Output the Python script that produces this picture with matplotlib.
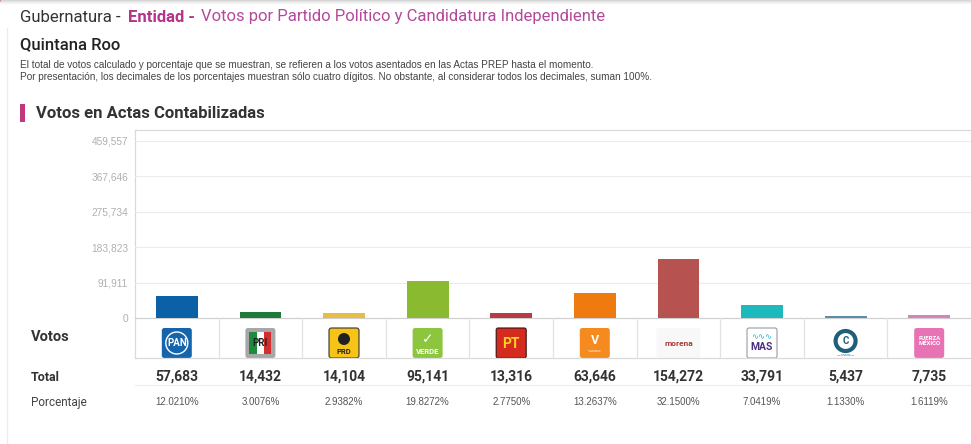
import matplotlib
matplotlib.use("Agg")
import matplotlib.pyplot as plt
from matplotlib.patches import FancyBboxPatch, Rectangle, Circle

# datos
partidos = ["PAN", "PRI", "PRD", "VERDE", "PT", "MC", "morena", "MAS", "CQROO", "FXM"]
votos = [57683, 14432, 14104, 95141, 13316, 63646, 154272, 33791, 5437, 7735]
porcentajes = [12.0210, 3.0076, 2.9382, 19.8272, 2.7750, 13.2637, 32.1500, 7.0419, 1.1330, 1.6119]
colores = ["#0c60a5", "#1f7a3a", "#e6bd45", "#8aba2f", "#b53b44",
           "#ef7a0f", "#b65250", "#1cbabd", "#5a8ea8", "#d683b8"]
y_ticks = [0, 91911, 183823, 275734, 367646, 459557]

W, H = 971, 444
MAGENTA = "#b5338a"
MAGENTA_L = "#b5489a"
DARK = "#333333"

fig = plt.figure(figsize=(W / 100, H / 100), dpi=100)
fig.patch.set_facecolor("white")

# capa en pixeles para textos y lineas
ov = fig.add_axes([0, 0, 1, 1])
ov.set_xlim(0, W)
ov.set_ylim(H, 0)
ov.axis("off")

# sombra superior y borde izquierdo de la pagina
for i, c in enumerate(["#d4d4d4", "#e2e2e2", "#ececec", "#f5f5f5"]):
    ov.plot([0, W], [i + 0.5, i + 0.5], color=c, lw=1, solid_capstyle="butt")
ov.add_patch(Rectangle((0, 0), 33, 2, color="#c2387f", lw=0))
ov.plot([7, 7], [28, H], color="#ececec", lw=1)

# encabezado
ov.text(20, 17, "Gubernatura -", fontsize=12, family="Roboto", color=DARK, va="center")
ov.text(128, 17, "Entidad -", fontsize=12, family="Roboto", fontweight="bold",
        color=MAGENTA, va="center")
ov.text(201, 17, "Votos por Partido Político y Candidatura Independiente", fontsize=12,
        family="Roboto", color=MAGENTA_L, va="center")
ov.text(20, 45, "Quintana Roo", fontsize=12, family="Roboto", fontweight="medium",
        color="#222222", va="center")
ov.text(20, 65, "El total de votos calculado y porcentaje que se muestran, se refieren a los "
        "votos asentados en las Actas PREP hasta el momento.", fontsize=7.2,
        family="Liberation Sans", color="#444444", va="center")
ov.text(20, 77, "Por presentación, los decimales de los porcentajes muestran sólo cuatro "
        "dígitos. No obstante, al considerar todos los decimales, suman 100%.",
        fontsize=7.2, family="Liberation Sans", color="#444444", va="center")

ov.add_patch(Rectangle((20, 104), 5, 18, color="#c2387f", lw=0))
ov.text(36, 113, "Votos en Actas Contabilizadas", fontsize=12, family="Roboto",
        fontweight="bold", color="#333333", va="center")

# grafica de barras
x0, x1, y_top, y_zero = 135, W, 141, 318
ax = fig.add_axes([x0 / W, (H - y_zero) / H, (x1 - x0) / W, (y_zero - y_top) / H])
ax.patch.set_alpha(0)
idx = list(range(len(partidos)))
ax.bar(idx, votos, width=0.5, color=colores, zorder=3)
ax.set_xlim(-0.5, len(partidos) - 0.5)
ax.set_ylim(0, y_ticks[-1])
ax.set_yticks(y_ticks)
ax.set_yticklabels([f"{t:,}" for t in y_ticks])
ax.set_xticks([])
ax.tick_params(axis="y", length=0, pad=5, labelsize=7.3, labelcolor="#b0b0b0")
for lab in ax.get_yticklabels():
    lab.set_family("Liberation Sans")
for s in ax.spines.values():
    s.set_visible(False)
for t in y_ticks[1:]:
    ax.axhline(t, color="#ececec", lw=0.8, zorder=1)

# lineas de la tabla
ln = "#dadada"
ov.plot([x0, W], [130, 130], color=ln, lw=0.9)
ov.plot([x0, x0], [130, 358], color=ln, lw=0.9)
ov.plot([x0, W], [y_zero, y_zero], color="#d0d0d0", lw=0.9)
ov.plot([x0, W], [358, 358], color=ln, lw=0.9)
ov.plot([x0, W], [385, 385], color="#eeeeee", lw=0.9)


def to_px(xd):
    disp = ax.transData.transform((xd, 0))
    return ov.transData.inverted().transform(disp)[0]


for k in range(1, len(partidos)):
    xs = to_px(k - 0.5)
    ov.plot([xs, xs], [y_zero, 358], color="#e2e2e2", lw=0.9)


def logo(name, cx, cy):
    s = 30
    l, t = cx - s / 2, cy - s / 2
    box = dict(boxstyle="round,pad=0,rounding_size=2.5", lw=0)
    if name == "PAN":
        ov.add_patch(FancyBboxPatch((l, t), s, s, fc="#1565ad", **box))
        ov.add_patch(Circle((cx, cy), 11, fc="none", ec="white", lw=1))
        ov.text(cx, cy, "PAN", color="white", fontsize=7, fontweight="bold",
                ha="center", va="center", family="Roboto")
    elif name == "PRI":
        ov.add_patch(FancyBboxPatch((l, t), s, s, fc="#a7a7a7", **box))
        for j, c in enumerate(["#1e8a3e", "white", "#d32f2f"]):
            ov.add_patch(Rectangle((l + 4 + j * 7.3, t + 4), 7.3, 22, fc=c, lw=0))
        ov.text(cx, cy, "PRI", color="#222222", fontsize=7, fontweight="bold",
                ha="center", va="center", family="Roboto")
    elif name == "PRD":
        ov.add_patch(FancyBboxPatch((l, t), s, s, fc="#f6c417", ec="#333333", lw=0.8,
                                    boxstyle="round,pad=0,rounding_size=2.5"))
        ov.add_patch(Circle((cx, cy - 4), 6, fc="#222222", lw=0))
        ov.text(cx, cy + 8, "PRD", color="#222222", fontsize=5.5, fontweight="bold",
                ha="center", va="center", family="Roboto")
    elif name == "VERDE":
        ov.add_patch(FancyBboxPatch((l, t), s, s, fc="#8cc63f", **box))
        ov.text(cx, cy - 4, "✓", color="white", fontsize=10, fontweight="bold",
                ha="center", va="center", family="DejaVu Sans")
        ov.text(cx, cy + 8, "VERDE", color="white", fontsize=5.5, fontweight="bold",
                ha="center", va="center", family="Roboto")
    elif name == "PT":
        ov.add_patch(FancyBboxPatch((l, t), s, s, fc="#d52b1e", ec="#3a1010", lw=0.8,
                                    boxstyle="round,pad=0,rounding_size=2"))
        ov.text(cx, cy + 1, "PT", color="#ffd21f", fontsize=10, fontweight="bold",
                ha="center", va="center", family="Roboto")
    elif name == "MC":
        ov.add_patch(FancyBboxPatch((l, t), s, s, fc="#f58a1f", **box))
        ov.text(cx, cy - 3, "V", color="white", fontsize=9, fontweight="bold",
                ha="center", va="center", family="Roboto")
        ov.text(cx, cy + 8, "MOVIMIENTO\nCIUDADANO", color="white", fontsize=1.6,
                ha="center", va="center", family="Roboto", linespacing=1.0)
    elif name == "morena":
        ov.add_patch(FancyBboxPatch((cx - 22, t), 44, s, fc="#f8f8f8", **box))
        ov.text(cx, cy, "morena", color="#a63d3a", fontsize=6, fontweight="bold",
                ha="center", va="center", family="Roboto")
    elif name == "MAS":
        ov.add_patch(FancyBboxPatch((l, t), s, s, fc="white", ec="#9a9aa8", lw=0.8,
                                    boxstyle="round,pad=0,rounding_size=2"))
        ov.text(cx, cy - 6, "∿∿∿", color="#27b6c9", fontsize=6,
                ha="center", va="center", family="DejaVu Sans")
        ov.text(cx, cy + 4, "MAS", color="#4a2f80", fontsize=7.5, fontweight="bold",
                ha="center", va="center", family="Roboto")
    elif name == "CQROO":
        ov.add_patch(Circle((cx, cy - 2), 10, fc="white", ec="#1f5f7a", lw=3))
        ov.text(cx, cy - 2, "C", color="#1f5f7a", fontsize=7, fontweight="bold",
                ha="center", va="center", family="Roboto")
        ov.text(cx, cy + 12, "CONFIANZA\nPOR QUINTANA ROO", color="#1f5f7a", fontsize=1.4,
                ha="center", va="center", family="Roboto", linespacing=1.0)
    elif name == "FXM":
        ov.add_patch(FancyBboxPatch((l, t), s, s, fc="#e873b4", **box))
        ov.text(cx, cy - 2, "FUERZA\nMÉXICO", color="white", fontsize=4.3, fontweight="bold",
                ha="center", va="center", family="Roboto", linespacing=1.1)


for i, p in enumerate(partidos):
    cx = to_px(i)
    logo(p, cx, 343)
    ov.text(cx, 377, f"{votos[i]:,}", fontsize=10, fontweight="bold", family="Roboto",
            color=DARK, ha="center", va="center")
    ov.text(cx, 402, f"{porcentajes[i]:.4f}%", fontsize=7, family="Liberation Sans",
            color="#555555", ha="center", va="center")

# etiquetas de filas
ov.text(31, 337, "Votos", fontsize=10.5, fontweight="bold", family="Roboto",
        color=DARK, va="center")
ov.text(31, 377, "Total", fontsize=9, fontweight="bold", family="Roboto",
        color=DARK, va="center")
ov.text(31, 402, "Porcentaje", fontsize=8.5, family="Roboto", color="#444444", va="center")

fig.savefig("out.png", dpi=100)
